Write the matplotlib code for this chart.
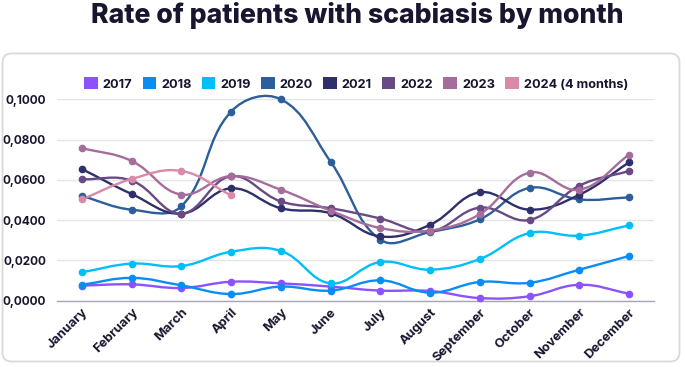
import numpy as np
import matplotlib
matplotlib.use('Agg')
import matplotlib.pyplot as plt
from matplotlib.path import Path
from matplotlib.patches import PathPatch, FancyBboxPatch, Patch
from matplotlib.transforms import IdentityTransform

months = ['January', 'February', 'March', 'April', 'May', 'June', 'July',
          'August', 'September', 'October', 'November', 'December']

y2017 = [0.0075, 0.0081, 0.0063, 0.0094, 0.0086, 0.0070, 0.0050, 0.0048, 0.0013, 0.0022, 0.0079, 0.0035]
y2018 = [0.0079, 0.0113, 0.0076, 0.0033, 0.0070, 0.0050, 0.0101, 0.0040, 0.0093, 0.0089, 0.0154, 0.0222]
y2019 = [0.0141, 0.0184, 0.0172, 0.0243, 0.0247, 0.0086, 0.0192, 0.0154, 0.0207, 0.0336, 0.0323, 0.0374]
y2020 = [0.0520, 0.0452, 0.0469, 0.0939, 0.1000, 0.0690, 0.0303, 0.0341, 0.0404, 0.0560, 0.0503, 0.0513]
y2021 = [0.0654, 0.0530, 0.0432, 0.0558, 0.0459, 0.0434, 0.0319, 0.0377, 0.0538, 0.0452, 0.0526, 0.0687]
y2022 = [0.0603, 0.0596, 0.0432, 0.0618, 0.0493, 0.0459, 0.0408, 0.0344, 0.0462, 0.0401, 0.0571, 0.0644]
y2023 = [0.0758, 0.0694, 0.0527, 0.0619, 0.0551, 0.0447, 0.0361, 0.0348, 0.0430, 0.0636, 0.0551, 0.0725]
y2024 = [0.0503, 0.0604, 0.0644, 0.0523]

series_names = ['2017', '2018', '2019', '2020', '2021', '2022', '2023', '2024 (4 months)']
series_vals = [y2017, y2018, y2019, y2020, y2021, y2022, y2023, y2024]
colors = ['#8c52ff', '#0a8cf5', '#00bff7', '#2c5e99', '#2e2f6b', '#6a4a85', '#a56c9c', '#d98aa8']

yticks = [0.0, 0.02, 0.04, 0.06, 0.08, 0.10]
ytick_labels = ['0,0000', '0,0200', '0,0400', '0,0600', '0,0800', '0,1000']

txt = '#16162e'
plt.rcParams['font.family'] = ['Inter', 'DejaVu Sans']


def smooth_path(xs, ys, sx, sy, t=0.4):
    # chart.js style spline, computed in pixel-like units
    P = np.column_stack([np.asarray(xs) * sx, np.asarray(ys) * sy])
    n = len(P)
    cin, cout = [], []
    for i in range(n):
        cur = P[i]
        prv = P[i - 1] if i > 0 else cur
        nxt = P[i + 1] if i < n - 1 else cur
        d01 = np.hypot(*(cur - prv))
        d12 = np.hypot(*(nxt - cur))
        tot = d01 + d12
        s01 = d01 / tot if tot else 0
        s12 = d12 / tot if tot else 0
        cin.append(cur - t * s01 * (nxt - prv))
        cout.append(cur + t * s12 * (nxt - prv))
    verts = [P[0]]
    codes = [Path.MOVETO]
    for i in range(n - 1):
        verts += [cout[i], cin[i + 1], P[i + 1]]
        codes += [Path.CURVE4] * 3
    verts = np.array(verts) / [sx, sy]
    return Path(verts, codes)


fig = plt.figure(figsize=(6.85, 3.67), dpi=100)
ax = fig.add_axes([0.0832, 0.1807, 0.8715, 0.5487])

# card border
card = FancyBboxPatch((2.5, 5.5), 677, 308, boxstyle='round,pad=0,rounding_size=9',
                      transform=IdentityTransform(), facecolor='none',
                      edgecolor='#d9d9d9', lw=1.3)
fig.patches.append(card)

for name, vals, c in zip(series_names, series_vals, colors):
    x = np.arange(len(vals))
    path = smooth_path(x, vals, 49.75, 2013)
    ax.add_patch(PathPatch(path, facecolor='none', edgecolor=c, lw=1.7,
                           clip_on=False, zorder=3))
    ax.plot(x, vals, 'o', ms=4.5, color=c, clip_on=False, zorder=4)

ax.set_xlim(-0.5, 11.5)
ax.set_ylim(0, 0.1)
ax.set_yticks(yticks)
ax.set_yticklabels(ytick_labels)
ax.set_xticks(range(12))
ax.set_xticklabels(months, rotation=45, ha='right', rotation_mode='anchor')
for lab in ax.get_yticklabels():
    lab.set_fontweight('bold')
    lab.set_fontsize(8.5)
    lab.set_color(txt)
for lab in ax.get_xticklabels():
    lab.set_fontweight('bold')
    lab.set_fontsize(9.3)
    lab.set_color(txt)
ax.tick_params(length=0, pad=8)
ax.tick_params(axis='x', pad=4)
ax.grid(axis='y', color='#e3e3e8', lw=1)
ax.set_axisbelow(True)
for s in ['top', 'right', 'left']:
    ax.spines[s].set_visible(False)
ax.spines['bottom'].set_color('#a6a6b4')
ax.spines['bottom'].set_linewidth(1)

handles = [Patch(facecolor=c, edgecolor='none') for c in colors]
fig.legend(handles, series_names, loc='center', bbox_to_anchor=(0.52, 0.771),
           ncol=8, frameon=False, handlelength=1.05, handleheight=1.05,
           handletextpad=0.4, columnspacing=0.8,
           prop={'weight': 'bold', 'size': 9.2}, labelcolor=txt)

fig.text(0.521, 0.957, 'Rate of patients with scabiasis by month', ha='center', va='center',
         fontsize=19.2, fontweight='heavy', color=txt)

fig.savefig('out.png', dpi=100)
